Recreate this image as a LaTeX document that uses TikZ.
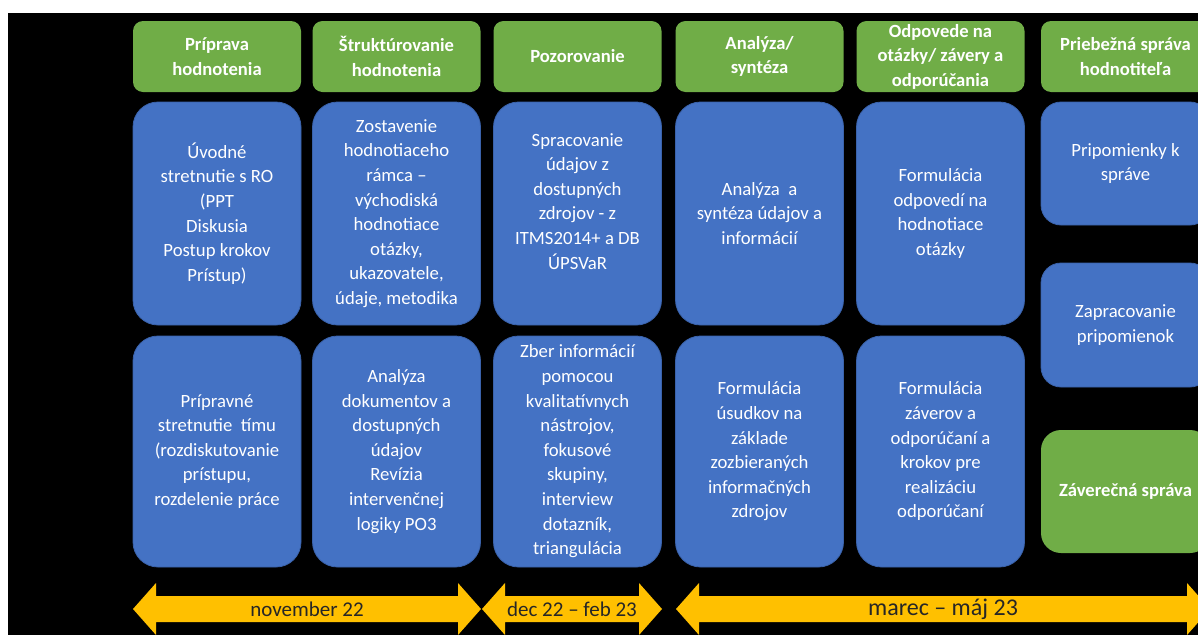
\documentclass[tikz,border=0pt]{standalone}
\usepackage{fontspec}
\setmainfont{Carlito}
\definecolor{hdgreen}{HTML}{70AD47}
\definecolor{boxblue}{HTML}{4472C4}
\definecolor{boxline}{HTML}{3A62AA}
\definecolor{timeyellow}{HTML}{FFC000}
\definecolor{timetext}{HTML}{262626}

\begin{document}
\begin{tikzpicture}[x=1pt,y=-1pt,
	phase/.style={fill=hdgreen,rounded corners=10pt,inner sep=0pt,minimum width=168pt,minimum height=71pt,text=white,align=center,font=\bfseries\fontsize{18.6}{24.5}\selectfont},
	task/.style={fill=boxblue,draw=boxline,line width=0.8pt,rounded corners=25pt,inner sep=0pt,minimum width=168pt,minimum height=223pt,text=white,align=center,font=\fontsize{18.7}{24.6}\selectfont},
	side/.style={task,rounded corners=20pt,minimum width=169pt,minimum height=123pt},
	period/.style={text=timetext,font=\fontsize{21}{24}\selectfont}]
		\useasboundingbox (0,0) rectangle (1198,635);
		\clip (0,0) rectangle (1198,635);
		\fill[white] (0,0) rectangle (1198,635);
		\fill[black] (8,13) rectangle (1198,635);
		% phases
		\node[phase] (hPrep) at (217,56.5) {Príprava\\hodnotenia};
		\node[phase] (hStruct) at (396.5,56.5) {Štruktúrovanie\\hodnotenia};
		\node[phase] (hObs) at (577.5,56.5) {Pozorovanie};
		\node[phase] (hAnal) at (759.5,56.5) {Analýza/\\syntéza};
		\node[phase] (hAns) at (940.5,56.5) {Odpovede na\\otázky/ závery a\\odporúčania};
		\node[phase,minimum width=169pt] (hRep) at (1125.5,56.5) {Priebežná správa\\hodnotiteľa};
		% first row
		\node[task] (tPrep) at (217,213.5) {Úvodné\\stretnutie s RO\\(PPT\\Diskusia\\Postup krokov\\Prístup)};
		\node[task] (tStruct) at (396.5,213.5) {Zostavenie\\hodnotiaceho\\rámca –\\východiská\\hodnotiace\\otázky,\\ukazovatele,\\údaje, metodika};
		\node[task] (tObs) at (577.5,213.5) {Spracovanie\\údajov z\\dostupných\\zdrojov - z\\ITMS2014+ a DB\\ÚPSVaR\\\mbox{}};
		\node[task] (tAnal) at (759.5,213.5) {Analýza~ a\\syntéza údajov a\\informácií};
		\node[task] (tAns) at (940.5,213.5) {Formulácia\\odpovedí na\\hodnotiace\\otázky};
		% second row
		\node[task,minimum height=231pt] (uPrep) at (217,451.5) {Prípravné\\stretnutie~ tímu\\(rozdiskutovanie\\prístupu,\\rozdelenie práce};
		\node[task,minimum height=231pt] (uStruct) at (396.5,451.5) {Analýza\\dokumentov a\\dostupných\\údajov\\Revízia\\intervenčnej\\logiky PO3};
		\node[task,minimum height=231pt] (uObs) at (577.5,451.5) {Zber informácií\\pomocou\\kvalitatívnych\\nástrojov,\\fokusové\\skupiny,\\interview\\dotazník,\\triangulácia};
		\node[task,minimum height=231pt] (uAnal) at (759.5,451.5) {Formulácia\\úsudkov na\\základe\\zozbieraných\\informačných\\zdrojov};
		\node[task,minimum height=231pt] (uAns) at (940.5,451.5) {Formulácia\\záverov a\\odporúčaní a\\krokov pre\\realizáciu\\odporúčaní};
		% report column
		\node[side] (rNotes) at (1125.5,163.5) {Pripomienky k\\správe};
		\node[side,minimum height=124pt] (rFix) at (1125.5,325) {Zapracovanie\\pripomienok};
		\node[side,fill=hdgreen,draw=none,font=\bfseries\fontsize{18.6}{24.5}\selectfont] (rFinal) at (1125.5,491.5) {Záverečná správa};
		% timeline
		\fill[timeyellow] (133,609) -- (156,583) -- (156,596) -- (458,596) -- (458,583) -- (481,609) -- (458,635) -- (458,622) -- (156,622) -- (156,635) -- cycle;
		\fill[timeyellow] (482,609) -- (505,583) -- (505,596) -- (639,596) -- (639,583) -- (662,609) -- (639,635) -- (639,622) -- (505,622) -- (505,635) -- cycle;
		\fill[timeyellow] (676,609) -- (699,583) -- (699,596) -- (1187,596) -- (1187,583) -- (1210,609) -- (1187,635) -- (1187,622) -- (699,622) -- (699,635) -- cycle;
		\node[period] (pNov) at (307,609) {november 22};
		\node[period] (pDec) at (572,609) {dec 22 – feb 23};
		\node[period,font=\fontsize{24}{28}\selectfont] (pMar) at (943,609) {marec – máj 23};
	\end{tikzpicture}
\end{document}
